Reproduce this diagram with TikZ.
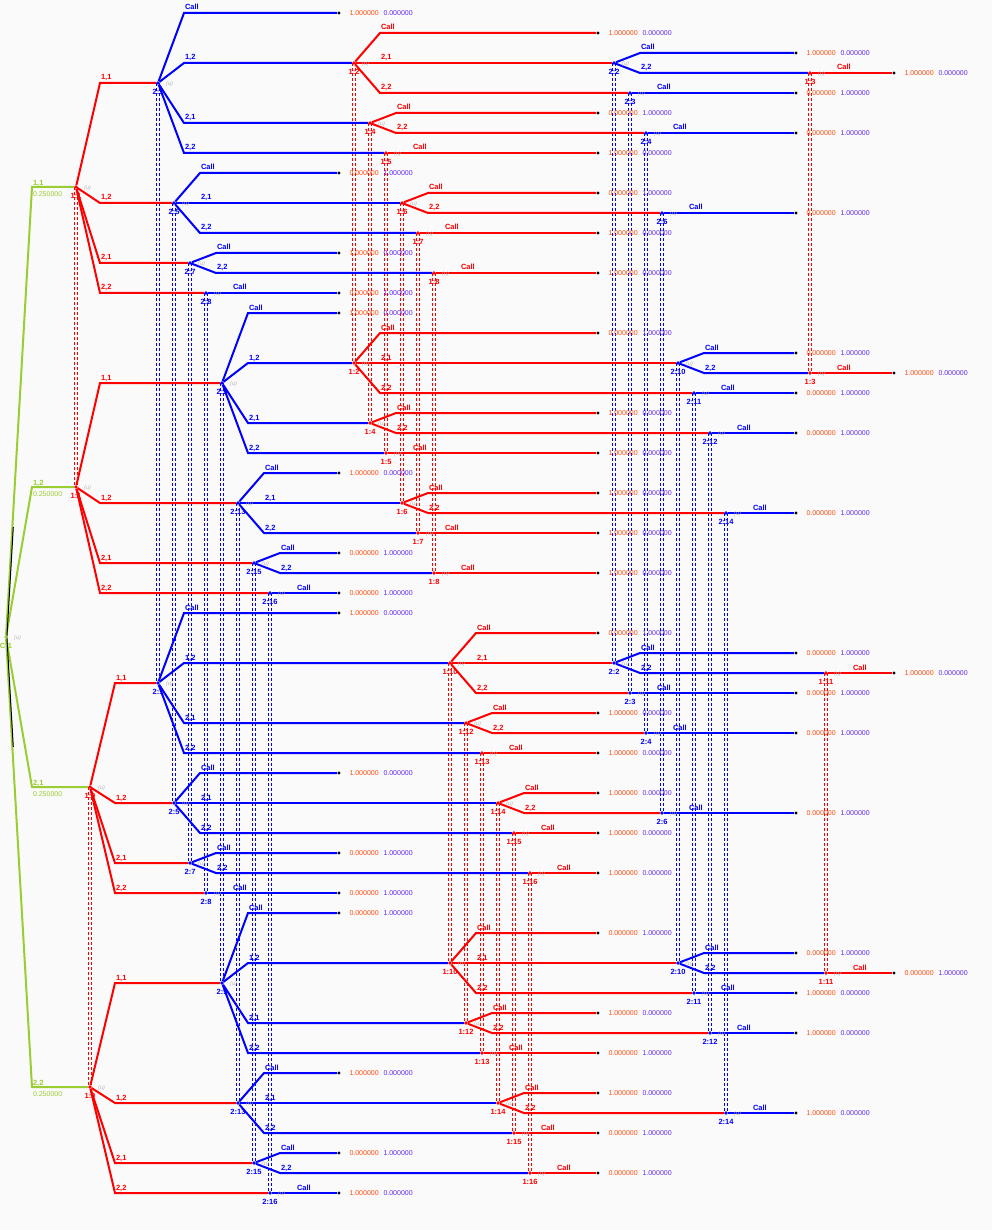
\documentclass[tikz,border=0pt]{standalone}
\usepackage{fontspec}
\setmainfont{Liberation Sans}
\pgfdeclarelayer{bgl}
\pgfdeclarelayer{dash}
\pgfdeclarelayer{edge}
\pgfsetlayers{bgl,dash,edge,main}
\definecolor{bgc}{HTML}{FAFAFA}
\definecolor{pr}{HTML}{FF0000}
\definecolor{pb}{HTML}{0000FF}
\definecolor{pc}{HTML}{9ACD32}
\definecolor{payr}{HTML}{FF4A10}
\definecolor{payb}{HTML}{6028F0}
\definecolor{ug}{HTML}{B4B4B4}
\newcommand\fbl{\fontsize{7.5pt}{8pt}\selectfont\bfseries}
\newcommand\fpy{\fontsize{7pt}{8pt}\selectfont}
\newcommand\fuu{\fontsize{5.5pt}{6pt}\selectfont\itshape}
\newcommand\pyA{\textcolor{payr}{1.000000}\hspace{4.8pt}\textcolor{payb}{0.000000}}
\newcommand\pyB{\textcolor{payr}{0.000000}\hspace{4.8pt}\textcolor{payb}{1.000000}}
\tikzset{
 dot/.style={circle, inner sep=0pt, minimum size=3.6pt, draw=none},
 P1/.style={dot, fill=pr},
 P2/.style={dot, fill=pb},
 PC/.style={dot, fill=pc},
 T/.style={dot, fill=black, minimum size=3.2pt},
 E1/.style={draw=pr, line width=2pt},
 E2/.style={draw=pb, line width=2pt},
 EC/.style={draw=pc, line width=2pt},
 BL1/.style={anchor=base west, yshift=3pt, inner sep=0pt, text=pr, font=\fbl},
 BL2/.style={anchor=base west, yshift=3pt, inner sep=0pt, text=pb, font=\fbl},
 CL/.style={anchor=base west, yshift=1.5pt, inner sep=0pt, text=pc, font=\fbl},
 CP/.style={anchor=north west, yshift=-4pt, inner sep=0pt, text=pc, font=\fpy},
 NL1/.style={inner sep=0pt, label distance=4.2pt, text=pr, font=\fbl},
 NL2/.style={inner sep=0pt, label distance=4.2pt, text=pb, font=\fbl},
 NLC/.style={inner sep=0pt, label distance=4.2pt, text=pc, font=\fbl},
 U/.style={inner sep=0pt, label distance=6pt, yshift=-1pt, text=ug, font=\fuu},
 PAY/.style={inner sep=0pt, label distance=8.5pt, font=\fpy},
 IS1/.style={draw=pr, line width=1pt, dash pattern=on 3pt off 2pt},
 IS2/.style={draw=pb, line width=1pt, dash pattern=on 3pt off 2pt},
}
\newcommand\dn[5]{\node[P#4, label={[NL#4]below:{#5}}, label={[U]right:(u)}] (#1) at (#2,#3) {};}
\newcommand\tm[4]{\node[T, label={[PAY]right:#4}] (#1) at (#2,#3) {};}
\newcommand\br[5][26]{\draw[E#5] (#2) -- ([xshift=#1pt]#2.center |- #3.center) node[BL#5] {#4} -- (#3);}
\newcommand\cbr[3]{\draw[EC] (#1) -- ([xshift=26pt]#1.center |- #2.center) node[CL]{#3} node[CP]{0.250000} -- (#2);}
\newcommand\iset[3]{\draw[IS#3] ([xshift=-1.8pt]#1.center) -- ([xshift=-1.8pt]#2.center);
 \draw[IS#3] ([xshift=1.8pt]#1.center) -- ([xshift=1.8pt]#2.center);}
\begin{document}
\begin{tikzpicture}[x=1pt,y=-1pt]
\begin{pgfonlayer}{bgl}
\fill[bgc] (0,0) rectangle (992,1230);
\end{pgfonlayer}
\useasboundingbox (0,0) rectangle (992,1230);
% root
\node[PC, label={[NLC]below:{C:1}}, label={[U]right:(u)}] (r) at (6,637) {};
\coordinate (k1) at (12.4,527);
\coordinate (k2) at (12.4,747);
% ---------- quadrant A
\dn{A11}{76}{187}{1}{1:1}
\dn{A21}{158}{83}{2}{2:1}
\dn{A12}{354}{63}{1}{1:2}
\dn{A22}{614}{63}{2}{2:2}
\dn{A13}{810}{73}{1}{1:3}
\dn{A23}{630}{93}{2}{2:3}
\dn{A14}{370}{123}{1}{1:4}
\dn{A24}{646}{133}{2}{2:4}
\dn{A15}{386}{153}{1}{1:5}
\dn{A25}{174}{203}{2}{2:5}
\dn{A16}{402}{203}{1}{1:6}
\dn{A26}{662}{213}{2}{2:6}
\dn{A17}{418}{233}{1}{1:7}
\dn{A27}{190}{263}{2}{2:7}
\dn{A18}{434}{273}{1}{1:8}
\dn{A28}{206}{293}{2}{2:8}
\tm{tA1}{339}{13}{\pyA}
\tm{tA2}{598}{33}{\pyA}
\tm{tA3}{796}{53}{\pyA}
\tm{tA4}{894}{73}{\pyA}
\tm{tA5}{796}{93}{\pyB}
\tm{tA6}{598}{113}{\pyB}
\tm{tA7}{796}{133}{\pyB}
\tm{tA8}{598}{153}{\pyA}
\tm{tA9}{339}{173}{\pyB}
\tm{tA10}{598}{193}{\pyB}
\tm{tA11}{796}{213}{\pyB}
\tm{tA12}{598}{233}{\pyA}
\tm{tA13}{339}{253}{\pyA}
\tm{tA14}{598}{273}{\pyA}
\tm{tA15}{339}{293}{\pyB}
% ---------- quadrant B
\dn{B11}{76}{487}{1}{1:1}
\dn{B29}{222}{383}{2}{2:9}
\dn{B12}{354}{363}{1}{1:2}
\dn{B210}{678}{363}{2}{2:10}
\dn{B13}{810}{373}{1}{1:3}
\dn{B211}{694}{393}{2}{2:11}
\dn{B14}{370}{423}{1}{1:4}
\dn{B212}{710}{433}{2}{2:12}
\dn{B15}{386}{453}{1}{1:5}
\dn{B213}{238}{503}{2}{2:13}
\dn{B16}{402}{503}{1}{1:6}
\dn{B214}{726}{513}{2}{2:14}
\dn{B17}{418}{533}{1}{1:7}
\dn{B215}{254}{563}{2}{2:15}
\dn{B18}{434}{573}{1}{1:8}
\dn{B216}{270}{593}{2}{2:16}
\tm{tB1}{339}{313}{\pyA}
\tm{tB2}{598}{333}{\pyB}
\tm{tB3}{796}{353}{\pyB}
\tm{tB4}{894}{373}{\pyA}
\tm{tB5}{796}{393}{\pyB}
\tm{tB6}{598}{413}{\pyA}
\tm{tB7}{796}{433}{\pyB}
\tm{tB8}{598}{453}{\pyA}
\tm{tB9}{339}{473}{\pyA}
\tm{tB10}{598}{493}{\pyA}
\tm{tB11}{796}{513}{\pyB}
\tm{tB12}{598}{533}{\pyA}
\tm{tB13}{339}{553}{\pyB}
\tm{tB14}{598}{573}{\pyA}
\tm{tB15}{339}{593}{\pyB}
% ---------- quadrant C
\dn{C19}{90}{787}{1}{1:9}
\dn{C21}{158}{683}{2}{2:1}
\dn{C110}{450}{663}{1}{1:10}
\dn{C22}{614}{663}{2}{2:2}
\dn{C111}{826}{673}{1}{1:11}
\dn{C23}{630}{693}{2}{2:3}
\dn{C112}{466}{723}{1}{1:12}
\dn{C24}{646}{733}{2}{2:4}
\dn{C113}{482}{753}{1}{1:13}
\dn{C25}{174}{803}{2}{2:5}
\dn{C114}{498}{803}{1}{1:14}
\dn{C26}{662}{813}{2}{2:6}
\dn{C115}{514}{833}{1}{1:15}
\dn{C27}{190}{863}{2}{2:7}
\dn{C116}{530}{873}{1}{1:16}
\dn{C28}{206}{893}{2}{2:8}
\tm{tC1}{339}{613}{\pyA}
\tm{tC2}{598}{633}{\pyB}
\tm{tC3}{796}{653}{\pyB}
\tm{tC4}{894}{673}{\pyA}
\tm{tC5}{796}{693}{\pyB}
\tm{tC6}{598}{713}{\pyA}
\tm{tC7}{796}{733}{\pyB}
\tm{tC8}{598}{753}{\pyA}
\tm{tC9}{339}{773}{\pyA}
\tm{tC10}{598}{793}{\pyA}
\tm{tC11}{796}{813}{\pyB}
\tm{tC12}{598}{833}{\pyA}
\tm{tC13}{339}{853}{\pyB}
\tm{tC14}{598}{873}{\pyA}
\tm{tC15}{339}{893}{\pyB}
% ---------- quadrant D
\dn{D19}{90}{1087}{1}{1:9}
\dn{D29}{222}{983}{2}{2:9}
\dn{D110}{450}{963}{1}{1:10}
\dn{D210}{678}{963}{2}{2:10}
\dn{D111}{826}{973}{1}{1:11}
\dn{D211}{694}{993}{2}{2:11}
\dn{D112}{466}{1023}{1}{1:12}
\dn{D212}{710}{1033}{2}{2:12}
\dn{D113}{482}{1053}{1}{1:13}
\dn{D213}{238}{1103}{2}{2:13}
\dn{D114}{498}{1103}{1}{1:14}
\dn{D214}{726}{1113}{2}{2:14}
\dn{D115}{514}{1133}{1}{1:15}
\dn{D215}{254}{1163}{2}{2:15}
\dn{D116}{530}{1173}{1}{1:16}
\dn{D216}{270}{1193}{2}{2:16}
\tm{tD1}{339}{913}{\pyB}
\tm{tD2}{598}{933}{\pyB}
\tm{tD3}{796}{953}{\pyB}
\tm{tD4}{894}{973}{\pyB}
\tm{tD5}{796}{993}{\pyA}
\tm{tD6}{598}{1013}{\pyA}
\tm{tD7}{796}{1033}{\pyA}
\tm{tD8}{598}{1053}{\pyB}
\tm{tD9}{339}{1073}{\pyA}
\tm{tD10}{598}{1093}{\pyA}
\tm{tD11}{796}{1113}{\pyA}
\tm{tD12}{598}{1133}{\pyB}
\tm{tD13}{339}{1153}{\pyB}
\tm{tD14}{598}{1173}{\pyB}
\tm{tD15}{339}{1193}{\pyA}
% ---------- information sets
\begin{pgfonlayer}{dash}
\iset{A11}{B11}{1}
\iset{C19}{D19}{1}
\iset{A21}{C21}{2}
\iset{A25}{C25}{2}
\iset{A27}{C27}{2}
\iset{A28}{C28}{2}
\iset{B29}{D29}{2}
\iset{B213}{D213}{2}
\iset{B215}{D215}{2}
\iset{B216}{D216}{2}
\iset{A12}{B12}{1}
\iset{A14}{B14}{1}
\iset{A15}{B15}{1}
\iset{A16}{B16}{1}
\iset{A17}{B17}{1}
\iset{A18}{B18}{1}
\iset{C110}{D110}{1}
\iset{C112}{D112}{1}
\iset{C113}{D113}{1}
\iset{C114}{D114}{1}
\iset{C115}{D115}{1}
\iset{C116}{D116}{1}
\iset{A22}{C22}{2}
\iset{A23}{C23}{2}
\iset{A24}{C24}{2}
\iset{A26}{C26}{2}
\iset{B210}{D210}{2}
\iset{B211}{D211}{2}
\iset{B212}{D212}{2}
\iset{B214}{D214}{2}
\iset{A13}{B13}{1}
\iset{C111}{D111}{1}
\end{pgfonlayer}
% ---------- edges
\begin{pgfonlayer}{edge}
\cbr{r}{A11}{1,1}
\cbr{r}{B11}{1,2}
\cbr{r}{C19}{2,1}
\cbr{r}{D19}{2,2}
\draw[black, line width=1pt] ([xshift=0.9pt]r.center) -- ([xshift=0.9pt]k1);
\draw[black, line width=1pt] ([xshift=0.9pt]r.center) -- ([xshift=0.9pt]k2);
% A
\br[24]{A11}{A21}{1,1}{1}
\br[24]{A11}{A25}{1,2}{1}
\br[24]{A11}{A27}{2,1}{1}
\br[24]{A11}{A28}{2,2}{1}
\br{A21}{tA1}{Call}{2}
\br{A21}{A12}{1,2}{2}
\br{A21}{A14}{2,1}{2}
\br{A21}{A15}{2,2}{2}
\br{A12}{tA2}{Call}{1}
\br{A12}{A22}{2,1}{1}
\br{A12}{A23}{2,2}{1}
\br{A22}{tA3}{Call}{2}
\br{A22}{A13}{2,2}{2}
\br{A13}{tA4}{Call}{1}
\br{A23}{tA5}{Call}{2}
\br{A14}{tA6}{Call}{1}
\br{A14}{A24}{2,2}{1}
\br{A24}{tA7}{Call}{2}
\br{A15}{tA8}{Call}{1}
\br{A25}{tA9}{Call}{2}
\br{A25}{A16}{2,1}{2}
\br{A25}{A17}{2,2}{2}
\br{A16}{tA10}{Call}{1}
\br{A16}{A26}{2,2}{1}
\br{A26}{tA11}{Call}{2}
\br{A17}{tA12}{Call}{1}
\br{A27}{tA13}{Call}{2}
\br{A27}{A18}{2,2}{2}
\br{A18}{tA14}{Call}{1}
\br{A28}{tA15}{Call}{2}
% B
\br[24]{B11}{B29}{1,1}{1}
\br[24]{B11}{B213}{1,2}{1}
\br[24]{B11}{B215}{2,1}{1}
\br[24]{B11}{B216}{2,2}{1}
\br{B29}{tB1}{Call}{2}
\br{B29}{B12}{1,2}{2}
\br{B29}{B14}{2,1}{2}
\br{B29}{B15}{2,2}{2}
\br{B12}{tB2}{Call}{1}
\br{B12}{B210}{2,1}{1}
\br{B12}{B211}{2,2}{1}
\br{B210}{tB3}{Call}{2}
\br{B210}{B13}{2,2}{2}
\br{B13}{tB4}{Call}{1}
\br{B211}{tB5}{Call}{2}
\br{B14}{tB6}{Call}{1}
\br{B14}{B212}{2,2}{1}
\br{B212}{tB7}{Call}{2}
\br{B15}{tB8}{Call}{1}
\br{B213}{tB9}{Call}{2}
\br{B213}{B16}{2,1}{2}
\br{B213}{B17}{2,2}{2}
\br{B16}{tB10}{Call}{1}
\br{B16}{B214}{2,2}{1}
\br{B214}{tB11}{Call}{2}
\br{B17}{tB12}{Call}{1}
\br{B215}{tB13}{Call}{2}
\br{B215}{B18}{2,2}{2}
\br{B18}{tB14}{Call}{1}
\br{B216}{tB15}{Call}{2}
% C
\br[25]{C19}{C21}{1,1}{1}
\br[25]{C19}{C25}{1,2}{1}
\br[25]{C19}{C27}{2,1}{1}
\br[25]{C19}{C28}{2,2}{1}
\br{C21}{tC1}{Call}{2}
\br{C21}{C110}{1,2}{2}
\br{C21}{C112}{2,1}{2}
\br{C21}{C113}{2,2}{2}
\br{C110}{tC2}{Call}{1}
\br{C110}{C22}{2,1}{1}
\br{C110}{C23}{2,2}{1}
\br{C22}{tC3}{Call}{2}
\br{C22}{C111}{2,2}{2}
\br{C111}{tC4}{Call}{1}
\br{C23}{tC5}{Call}{2}
\br{C112}{tC6}{Call}{1}
\br{C112}{C24}{2,2}{1}
\br{C24}{tC7}{Call}{2}
\br{C113}{tC8}{Call}{1}
\br{C25}{tC9}{Call}{2}
\br{C25}{C114}{2,1}{2}
\br{C25}{C115}{2,2}{2}
\br{C114}{tC10}{Call}{1}
\br{C114}{C26}{2,2}{1}
\br{C26}{tC11}{Call}{2}
\br{C115}{tC12}{Call}{1}
\br{C27}{tC13}{Call}{2}
\br{C27}{C116}{2,2}{2}
\br{C116}{tC14}{Call}{1}
\br{C28}{tC15}{Call}{2}
% D
\br[25]{D19}{D29}{1,1}{1}
\br[25]{D19}{D213}{1,2}{1}
\br[25]{D19}{D215}{2,1}{1}
\br[25]{D19}{D216}{2,2}{1}
\br{D29}{tD1}{Call}{2}
\br{D29}{D110}{1,2}{2}
\br{D29}{D112}{2,1}{2}
\br{D29}{D113}{2,2}{2}
\br{D110}{tD2}{Call}{1}
\br{D110}{D210}{2,1}{1}
\br{D110}{D211}{2,2}{1}
\br{D210}{tD3}{Call}{2}
\br{D210}{D111}{2,2}{2}
\br{D111}{tD4}{Call}{1}
\br{D211}{tD5}{Call}{2}
\br{D112}{tD6}{Call}{1}
\br{D112}{D212}{2,2}{1}
\br{D212}{tD7}{Call}{2}
\br{D113}{tD8}{Call}{1}
\br{D213}{tD9}{Call}{2}
\br{D213}{D114}{2,1}{2}
\br{D213}{D115}{2,2}{2}
\br{D114}{tD10}{Call}{1}
\br{D114}{D214}{2,2}{1}
\br{D214}{tD11}{Call}{2}
\br{D115}{tD12}{Call}{1}
\br{D215}{tD13}{Call}{2}
\br{D215}{D116}{2,2}{2}
\br{D116}{tD14}{Call}{1}
\br{D216}{tD15}{Call}{2}
\end{pgfonlayer}
\end{tikzpicture}
\end{document}
